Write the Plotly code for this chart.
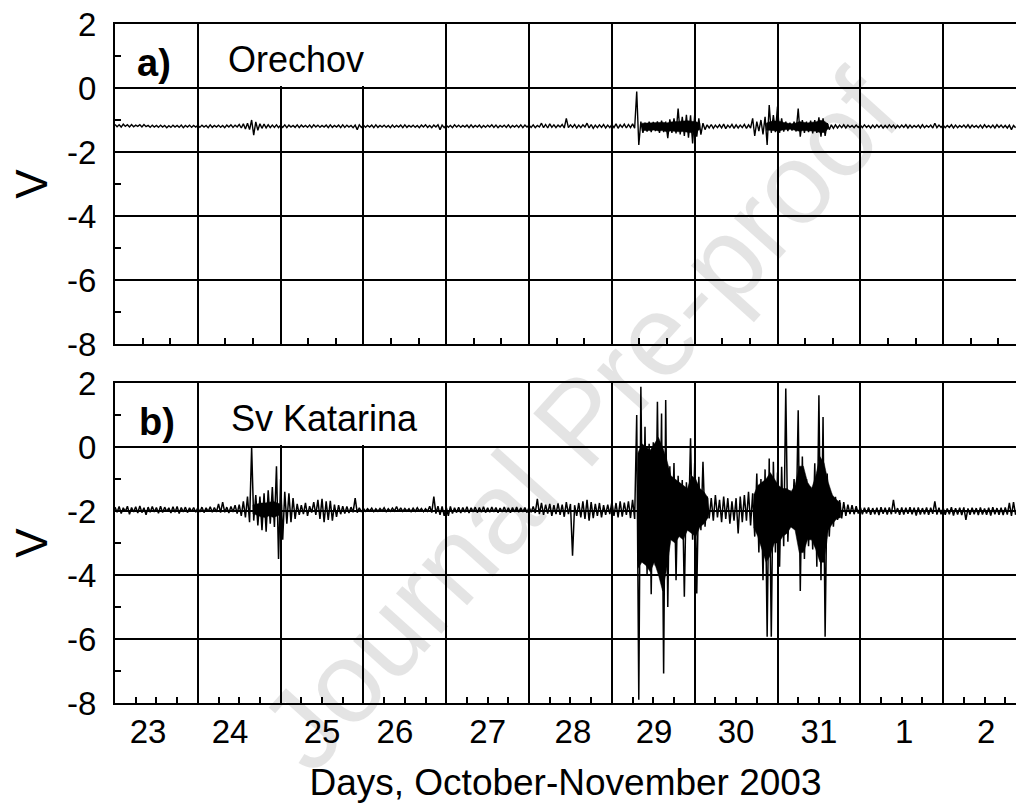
import numpy as np
import plotly.graph_objects as go

# Sampling of the records: one bin every 0.05 day starting at 23.0 (Oct 23, 00h).
T0 = 23.0
BIN = 0.05

# ---- Sv Katarina: upper / lower extreme per bin, one list per day ----
kat_hi_23 = [-1.88, -1.86, -1.90, -1.85, -1.89, -1.87, -1.84, -1.90, -1.88, -1.86,
             -1.89, -1.85, -1.88, -1.90, -1.87, -1.86, -1.89, -1.88, -1.90, -1.89]
kat_lo_23 = [-2.04, -2.08, -2.02, -2.10, -2.03, -2.06, -2.05, -2.12, -2.04, -2.03,
             -2.07, -2.05, -2.02, -2.06, -2.04, -2.08, -2.03, -2.05, -2.02, -2.04]
kat_hi_24 = [-1.90, -1.88, -1.90, -1.87, -1.89, -1.78, -1.72, -1.88, -1.86, -1.82,
             -1.80, -1.70, -1.55, -0.02, -1.50, -1.55, -1.45, -1.35, -1.25, -0.60]
kat_lo_24 = [-2.03, -2.05, -2.02, -2.04, -2.03, -2.05, -2.04, -2.06, -2.03, -2.08,
             -2.15, -2.20, -2.35, -2.30, -2.45, -2.60, -2.65, -2.40, -2.50, -3.50]
kat_hi_25 = [-1.00, -1.40, -1.45, -1.60, -1.78, -1.82, -1.75, -1.85, -1.72, -1.65,
             -1.62, -1.70, -1.68, -1.80, -1.82, -1.85, -1.86, -1.88, -1.60, -1.90]
kat_lo_25 = [-2.90, -2.40, -2.35, -2.25, -2.12, -2.10, -2.15, -2.05, -2.12, -2.25,
             -2.35, -2.28, -2.30, -2.18, -2.10, -2.08, -2.06, -2.04, -2.05, -2.03]
kat_hi_26 = [-1.92, -1.93, -1.91, -1.93, -1.92, -1.90, -1.93, -1.91, -1.86, -1.90,
             -1.92, -1.93, -1.91, -1.90, -1.92, -1.93, -1.85, -1.55, -1.85, -1.86]
kat_lo_26 = [-2.01, -2.00, -2.02, -2.01, -2.00, -2.02, -2.01, -2.00, -2.02, -2.01,
             -2.00, -2.02, -2.01, -2.00, -2.02, -2.01, -2.05, -2.08, -2.12, -2.15]
kat_hi_27 = [-1.88, -1.86, -1.90, -1.88, -1.89, -1.87, -1.90, -1.88, -1.89, -1.87,
             -1.90, -1.88, -1.89, -1.91, -1.88, -1.90, -1.89, -1.88, -1.90, -1.89]
kat_lo_27 = [-2.15, -2.08, -2.05, -2.06, -2.04, -2.06, -2.03, -2.05, -2.04, -2.05,
             -2.04, -2.03, -2.05, -2.03, -2.04, -2.05, -2.03, -2.04, -2.03, -2.05]
kat_hi_28 = [-1.88, -1.86, -1.62, -1.75, -1.80, -1.78, -1.82, -1.76, -1.80, -1.72,
             -1.78, -1.82, -1.75, -1.70, -1.65, -1.72, -1.78, -1.75, -1.82, -1.80]
kat_lo_28 = [-2.04, -2.06, -2.10, -2.12, -2.08, -2.15, -2.10, -2.12, -2.18, -2.10,
             -3.40, -2.15, -2.20, -2.25, -2.30, -2.22, -2.15, -2.20, -2.12, -2.10]
kat_hi_29 = [-1.72, -1.75, -1.70, -1.74, -1.70, -1.65, 1.00, 1.88, 0.63, 0.10,
             0.15, 1.41, 1.05, 1.47, -0.60, -0.50, -0.90, -1.03, -1.10, 0.27]
kat_lo_29 = [-2.15, -2.20, -2.18, -2.12, -2.22, -2.25, -7.90, -3.50, -4.00, -4.60,
             -3.70, -3.70, -7.08, -5.00, -2.90, -4.16, -2.70, -4.68, -2.60, -2.90]
kat_hi_30 = [-0.50, -0.93, -0.46, -1.55, -1.60, -1.50, -1.65, -1.55, -1.60, -1.70,
             -1.60, -1.55, -1.50, -1.40, -1.45, -0.83, -1.00, -0.70, -0.36, -0.46]
kat_lo_30 = [-4.58, -2.60, -2.49, -2.23, -2.30, -2.20, -2.35, -2.25, -2.40, -2.30,
             -2.70, -2.35, -2.30, -2.45, -2.80, -3.30, -4.16, -5.93, -5.93, -3.30]
kat_hi_31 = [-0.80, -0.62, 1.83, -1.35, -1.00, 1.15, -0.30, -1.00, -1.24, -0.51,
             1.62, 0.94, -0.83, -1.45, -1.56, -1.66, -1.72, -1.80, -1.82, -1.85]
kat_lo_31 = [-3.74, -3.10, -2.96, -2.49, -2.50, -4.50, -3.50, -3.10, -3.20, -3.74,
             -4.16, -5.93, -2.80, -2.49, -2.28, -2.23, -2.15, -2.10, -2.10, -2.08]
kat_hi_32 = [-1.88, -1.90, -1.89, -1.91, -1.90, -1.88, -1.90, -1.89, -1.65, -1.91,
             -1.89, -1.90, -1.88, -1.90, -1.89, -1.91, -1.89, -1.90, -1.70, -1.90]
kat_lo_32 = [-2.10, -2.08, -2.12, -2.10, -2.13, -2.09, -2.11, -2.10, -2.08, -2.12,
             -2.11, -2.09, -2.10, -2.14, -2.11, -2.10, -2.12, -2.09, -2.11, -2.10]
kat_hi_33 = [-1.90, -1.92, -1.88, -1.91, -1.90, -1.89, -1.92, -1.90, -1.91,
             -1.89, -1.92, -1.90, -1.88, -1.91, -1.90, -1.89, -1.75, -1.72]
kat_lo_33 = [-2.12, -2.10, -2.14, -2.11, -2.13, -2.28, -2.12, -2.10, -2.13,
             -2.11, -2.12, -2.14, -2.10, -2.12, -2.13, -2.11, -2.15, -2.12]

# Sv Katarina: dense core of the disturbed intervals (first bin time, upper, lower)
kat_core_a_t0 = 24.65
kat_core_a_hi = [-1.82, -1.78, -1.75, -1.75, -1.72, -1.70, -1.75, -1.80]
kat_core_a_lo = [-2.08, -2.12, -2.18, -2.20, -2.15, -2.20, -2.15, -2.10]
kat_core_b_t0 = 29.30
kat_core_b_hi = [-0.20, 0.10, 0.00, -0.10, 0.10, 0.30, 0.00, -0.40, -0.90, -1.00,
                 -1.10, -1.20, -1.30, -0.90, -1.00, -1.30, -1.40, -1.60]
kat_core_b_lo = [-3.80, -3.60, -3.70, -3.90, -3.60, -4.00, -4.50, -3.80, -2.90, -3.00,
                 -2.80, -2.90, -2.60, -2.70, -2.80, -2.50, -2.40, -2.20]
kat_core_c_t0 = 30.70
kat_core_c_hi = [-1.50, -1.20, -1.10, -1.00, -0.80, -1.00, -1.20, -1.30, -1.30, -1.40,
                 -1.20, -0.60, -0.60, -1.10, -1.30, -0.90, -0.30, -0.50, -1.10, -1.50,
                 -1.65, -1.75]
kat_core_c_lo = [-2.50, -2.80, -3.20, -3.60, -3.40, -3.00, -3.00, -2.80, -2.70, -2.50,
                 -2.60, -3.30, -3.30, -2.90, -2.90, -3.20, -3.60, -3.60, -2.60, -2.40,
                 -2.25, -2.20]

# ---- Orechov: upper / lower extreme per bin, one list per day ----
ore_hi_23 = [-1.14, -1.15, -1.13, -1.15, -1.14, -1.16, -1.15, -1.14, -1.17, -1.16,
             -1.17, -1.16, -1.17, -1.18, -1.16, -1.17, -1.16, -1.17, -1.16, -1.17]
ore_lo_23 = [-1.21, -1.22, -1.20, -1.22, -1.21, -1.20, -1.22, -1.21, -1.23, -1.22,
             -1.23, -1.22, -1.24, -1.23, -1.22, -1.23, -1.24, -1.22, -1.23, -1.22]
ore_hi_24 = [-1.17, -1.16, -1.17, -1.15, -1.17, -1.16, -1.17, -1.16, -1.15, -1.16,
             -1.14, -1.12, -1.10, -1.00, -1.06, -1.12, -1.13, -1.15, -1.16, -1.15]
ore_lo_24 = [-1.23, -1.22, -1.24, -1.23, -1.22, -1.23, -1.24, -1.22, -1.23, -1.22,
             -1.25, -1.28, -1.30, -1.47, -1.32, -1.26, -1.25, -1.24, -1.23, -1.24]
ore_hi_25 = [-1.16, -1.15, -1.16, -1.17, -1.15, -1.16, -1.17, -1.16, -1.15, -1.16,
             -1.17, -1.16, -1.15, -1.17, -1.16, -1.15, -1.16, -1.17, -1.16, -1.15]
ore_lo_25 = [-1.23, -1.24, -1.22, -1.23, -1.24, -1.22, -1.23, -1.24, -1.22, -1.23,
             -1.22, -1.24, -1.23, -1.22, -1.24, -1.23, -1.22, -1.24, -1.30, -1.23]
ore_hi_26 = [-1.16, -1.17, -1.16, -1.15, -1.17, -1.16, -1.17, -1.16, -1.17, -1.16,
             -1.15, -1.17, -1.16, -1.17, -1.16, -1.15, -1.17, -1.16, -1.15, -1.16]
ore_lo_26 = [-1.23, -1.22, -1.24, -1.23, -1.22, -1.23, -1.24, -1.23, -1.22, -1.24,
             -1.23, -1.22, -1.23, -1.24, -1.22, -1.23, -1.24, -1.22, -1.30, -1.24]
ore_hi_27 = [-1.16, -1.17, -1.15, -1.16, -1.17, -1.16, -1.15, -1.17, -1.16, -1.17,
             -1.16, -1.15, -1.16, -1.17, -1.16, -1.15, -1.17, -1.16, -1.15, -1.16]
ore_lo_27 = [-1.23, -1.24, -1.22, -1.23, -1.22, -1.24, -1.23, -1.22, -1.24, -1.23,
             -1.22, -1.23, -1.24, -1.22, -1.23, -1.24, -1.22, -1.23, -1.24, -1.22]
ore_hi_28 = [-1.16, -1.15, -1.17, -1.10, -1.14, -1.12, -1.15, -1.16, -1.14, -0.95,
             -1.15, -1.14, -1.16, -1.15, -1.10, -1.14, -1.16, -1.15, -1.14, -1.16]
ore_lo_28 = [-1.23, -1.24, -1.22, -1.24, -1.25, -1.23, -1.24, -1.22, -1.25, -1.24,
             -1.23, -1.25, -1.24, -1.22, -1.25, -1.26, -1.24, -1.23, -1.25, -1.24]
ore_hi_29 = [-1.14, -1.12, -1.15, -1.13, -1.14, -1.12, -0.11, -1.05, -1.08, -1.05,
             -1.06, -1.04, -1.02, -1.05, -0.98, -0.95, -0.64, -0.90, -0.84, -0.85]
ore_lo_29 = [-1.24, -1.26, -1.23, -1.25, -1.24, -1.26, -1.78, -1.40, -1.36, -1.38,
             -1.35, -1.40, -1.38, -1.57, -1.40, -1.42, -1.45, -1.50, -1.55, -1.73]
ore_hi_30 = [-0.84, -0.95, -1.10, -1.15, -1.14, -1.16, -1.15, -1.13, -1.16, -1.14,
             -1.15, -1.16, -1.14, -1.15, -0.95, -1.05, -1.00, -0.90, -0.53, -0.85]
ore_lo_30 = [-1.52, -1.46, -1.30, -1.25, -1.26, -1.24, -1.25, -1.27, -1.24, -1.26,
             -1.25, -1.24, -1.26, -1.25, -1.50, -1.35, -1.45, -1.78, -1.40, -1.38]
ore_hi_31 = [-0.58, -0.95, -1.05, -1.08, -1.05, -0.64, -1.00, -1.05, -1.02, -1.00,
             -0.92, -0.95, -1.10, -1.15, -1.15, -1.16, -1.15, -1.16, -1.17, -1.16]
ore_lo_31 = [-1.40, -1.36, -1.35, -1.33, -1.36, -1.52, -1.40, -1.38, -1.42, -1.40,
             -1.52, -1.50, -1.30, -1.26, -1.25, -1.24, -1.25, -1.23, -1.24, -1.23]
ore_hi_32 = [-1.16, -1.15, -1.17, -1.16, -1.15, -1.16, -1.17, -1.15, -1.16, -1.17,
             -1.16, -1.15, -1.16, -1.17, -1.16, -1.15, -1.17, -1.16, -1.10, -1.16]
ore_lo_32 = [-1.24, -1.23, -1.25, -1.24, -1.23, -1.25, -1.24, -1.23, -1.25, -1.24,
             -1.23, -1.25, -1.24, -1.23, -1.25, -1.24, -1.23, -1.25, -1.24, -1.23]
ore_hi_33 = [-1.16, -1.17, -1.15, -1.16, -1.17, -1.16, -1.15, -1.16, -1.17,
             -1.16, -1.15, -1.17, -1.16, -1.15, -1.16, -1.17, -1.16, -1.17]
ore_lo_33 = [-1.24, -1.23, -1.25, -1.24, -1.23, -1.24, -1.25, -1.23, -1.24,
             -1.25, -1.23, -1.24, -1.25, -1.23, -1.24, -1.25, -1.30, -1.24]

# Orechov: dense core of the disturbed intervals
ore_core_a_t0 = 29.35
ore_core_a_hi = [-1.10, -1.10, -1.09, -1.10, -1.08, -1.07, -1.09, -1.06, -1.05, -1.03,
                 -1.04, -1.02, -1.04, -1.05, -1.10]
ore_core_a_lo = [-1.33, -1.32, -1.33, -1.31, -1.34, -1.33, -1.37, -1.34, -1.35, -1.37,
                 -1.36, -1.38, -1.40, -1.36, -1.30]
ore_core_b_t0 = 30.85
ore_core_b_hi = [-1.10, -1.05, -1.03, -1.03, -1.07, -1.10, -1.12, -1.10, -1.05, -1.07,
                 -1.09, -1.07, -1.06, -1.01, -1.03, -1.13]
ore_core_b_lo = [-1.32, -1.32, -1.33, -1.35, -1.31, -1.30, -1.29, -1.31, -1.35, -1.33,
                 -1.32, -1.34, -1.35, -1.39, -1.39, -1.27]

# Day labels on the time axis (placed under each day) and their text
day_label_pos = [23.40, 24.39, 25.50, 26.38, 27.50, 28.53, 29.51, 30.50, 31.50, 32.53, 33.52]
day_label_txt = ["23", "24", "25", "26", "27", "28", "29", "30", "31", "1", "2"]

# Voltage tick values and their printed form (plain hyphen as minus sign)
volt_ticks = [-8, -6, -4, -2, 0, 2]
volt_ticktext = ["-8", "-6", "-4", "-2", "0", "2"]

X_RANGE = [23.0, 33.88]
Y_RANGE = [-8, 2]

kat_hi = (kat_hi_23 + kat_hi_24 + kat_hi_25 + kat_hi_26 + kat_hi_27 + kat_hi_28
          + kat_hi_29 + kat_hi_30 + kat_hi_31 + kat_hi_32 + kat_hi_33)
kat_lo = (kat_lo_23 + kat_lo_24 + kat_lo_25 + kat_lo_26 + kat_lo_27 + kat_lo_28
          + kat_lo_29 + kat_lo_30 + kat_lo_31 + kat_lo_32 + kat_lo_33)
ore_hi = (ore_hi_23 + ore_hi_24 + ore_hi_25 + ore_hi_26 + ore_hi_27 + ore_hi_28
          + ore_hi_29 + ore_hi_30 + ore_hi_31 + ore_hi_32 + ore_hi_33)
ore_lo = (ore_lo_23 + ore_lo_24 + ore_lo_25 + ore_lo_26 + ore_lo_27 + ore_lo_28
          + ore_lo_29 + ore_lo_30 + ore_lo_31 + ore_lo_32 + ore_lo_33)


def trace_xy(hi, lo):
    """Walk each bin from its upper to its lower value, giving the noisy record."""
    n = len(hi)
    t = T0 + BIN * np.arange(n)
    x = np.empty(2 * n)
    y = np.empty(2 * n)
    x[0::2] = t
    x[1::2] = t + BIN / 2
    y[0::2] = hi
    y[1::2] = lo
    return x, y


def core_polygon(t0, hi, lo):
    """Closed outline of a dense band: upper values forward, lower values back."""
    t = t0 + BIN * np.arange(len(hi)) + BIN / 4
    return (np.concatenate([t, t[::-1]]),
            np.concatenate([np.asarray(hi), np.asarray(lo)[::-1]]))


FONT = "Liberation Sans, Arial, Helvetica, sans-serif"

fig = go.Figure()

# dense cores (filled) beneath the traces
for t0, hi, lo, xa, ya in ((ore_core_a_t0, ore_core_a_hi, ore_core_a_lo, "x", "y"),
                           (ore_core_b_t0, ore_core_b_hi, ore_core_b_lo, "x", "y"),
                           (kat_core_a_t0, kat_core_a_hi, kat_core_a_lo, "x2", "y2"),
                           (kat_core_b_t0, kat_core_b_hi, kat_core_b_lo, "x2", "y2"),
                           (kat_core_c_t0, kat_core_c_hi, kat_core_c_lo, "x2", "y2")):
    px, py = core_polygon(t0, hi, lo)
    fig.add_trace(go.Scatter(x=px, y=py, mode="lines", fill="toself",
                             fillcolor="black", line=dict(color="black", width=0.5),
                             xaxis=xa, yaxis=ya, showlegend=False, hoverinfo="skip"))

x_ore, y_ore = trace_xy(ore_hi, ore_lo)
x_kat, y_kat = trace_xy(kat_hi, kat_lo)
fig.add_trace(go.Scatter(x=x_ore, y=y_ore, mode="lines", xaxis="x", yaxis="y",
                         line=dict(color="black", width=1.4), showlegend=False,
                         hoverinfo="skip"))
fig.add_trace(go.Scatter(x=x_kat, y=y_kat, mode="lines", xaxis="x2", yaxis="y2",
                         line=dict(color="black", width=1.5), showlegend=False,
                         hoverinfo="skip"))
# carrier for the day-label axis
fig.add_trace(go.Scatter(x=[], y=[], xaxis="x3", yaxis="y2", showlegend=False,
                         hoverinfo="skip"))

time_axis = dict(range=X_RANGE, showline=True, linewidth=2, linecolor="black",
                 mirror=True, ticks="inside", ticklen=10, tickwidth=2,
                 tickcolor="black", tick0=23, dtick=1, showgrid=True,
                 gridcolor="black", gridwidth=1.5, showticklabels=False,
                 zeroline=False)
volt_axis = dict(range=Y_RANGE, showline=True, linewidth=2, linecolor="black",
                 ticks="inside", ticklen=10, tickwidth=2, tickcolor="black",
                 tickmode="array", tickvals=volt_ticks, ticktext=volt_ticktext,
                 showgrid=True, gridcolor="black", gridwidth=2,
                 zeroline=False, ticklabelstandoff=10,
                 tickfont=dict(family=FONT, size=33, color="black"),
                 minor=dict(ticks="inside", tickmode="linear", tick0=-8, dtick=1,
                            ticklen=6, tickwidth=1.5, tickcolor="black",
                            showgrid=False),
                 title=dict(text="V", standoff=6,
                            font=dict(family=FONT, size=44, color="black")))

fig.update_layout(
    width=1016, height=806,
    margin=dict(l=115, r=0, t=24, b=103),
    paper_bgcolor="white", plot_bgcolor="white",
    font=dict(family=FONT, color="black"),
    xaxis=dict(time_axis, anchor="y", domain=[0, 1],
               minor=dict(ticks="inside", tick0=23, dtick=1 / 3, ticklen=6,
                          tickwidth=1.5, tickcolor="black", showgrid=False)),
    xaxis2=dict(time_axis, anchor="y2", domain=[0, 1],
                minor=dict(ticks="inside", tick0=23, dtick=0.25, ticklen=6,
                           tickwidth=1.5, tickcolor="black", showgrid=False)),
    xaxis3=dict(range=X_RANGE, overlaying="x2", anchor="y2", side="bottom",
                tickmode="array", tickvals=day_label_pos, ticktext=day_label_txt,
                ticks="", showgrid=False, showline=False, zeroline=False,
                ticklabelstandoff=6,
                tickfont=dict(family=FONT, size=33, color="black"),
                title=dict(text="Days, October-November 2003", standoff=20,
                           font=dict(family=FONT, size=37, color="black"))),
    yaxis=dict(volt_axis, anchor="x", domain=[0.5287, 1]),
    yaxis2=dict(volt_axis, anchor="x2", domain=[0, 0.4713]),
)

# white panels behind the station names
for xr, yr, x0, x1 in (("x", "y", 24.03, 26.95),
                       ("x2", "y2", 24.03, 26.95),
                       ("x2", "y2", 23.0, 23.85)):
    fig.add_shape(type="rect", xref=xr, yref=yr, x0=x0, x1=x1, y0=0.06, y1=2,
                  fillcolor="white", line=dict(width=0), layer="between")

labels = [
    ("<b>a)</b>", "x domain", "y domain", 0.043, 0.878, 38),
    ("Orechov", "x domain", "y domain", 0.201, 0.89, 36),
    ("<b>b)</b>", "x2 domain", "y2 domain", 0.047, 0.878, 38),
    ("Sv Katarina", "x2 domain", "y2 domain", 0.232, 0.89, 36),
]
for text, xr, yr, x, y, size in labels:
    fig.add_annotation(text=text, xref=xr, yref=yr, x=x, y=y, showarrow=False,
                       xanchor="center", yanchor="middle",
                       font=dict(family=FONT, size=size, color="black"))

# light diagonal "Journal Pre-proof" stamp across the figure
fig.add_annotation(text="Journal Pre-proof", xref="paper", yref="paper",
                   x=(580 - 115) / 901, y=(703 - 420) / 679, showarrow=False,
                   textangle=-48, opacity=0.1,
                   font=dict(family=FONT, size=115, color="black"))

fig.write_html("out.html")
